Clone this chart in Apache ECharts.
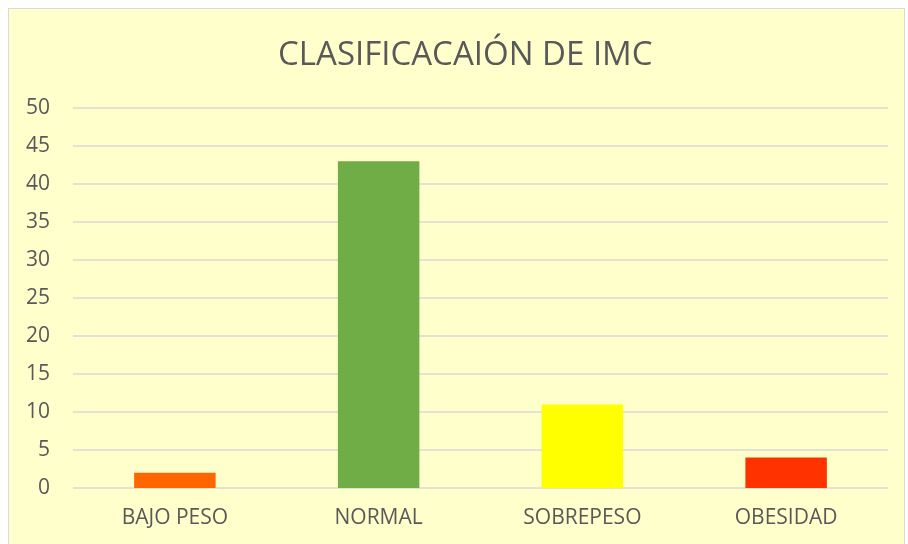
<!DOCTYPE html>
<html>
<head>
<meta charset="utf-8">
<script src="https://cdn.jsdelivr.net/npm/echarts@6/dist/echarts.min.js"></script>
<style>
  html, body { margin: 0; padding: 0; background: #fff; }
  #chart {
    position: absolute; left: 8px; top: 8px;
    width: 895px; height: 545px;
    border: 1px solid #d9d9d9;
    background: #ffffcc;
  }
</style>
</head>
<body>
<div id="chart"></div>
<script>
const categories = ['BAJO PESO', 'NORMAL', 'SOBREPESO', 'OBESIDAD']
const values = [2, 43, 11, 4]
const barColors = ['#ff6600', '#70ad47', '#ffff00', '#ff3300']

const chart = echarts.init(document.getElementById('chart'))

chart.setOption({
    backgroundColor: 'transparent',
    animation: false,
    title: {
        text: 'CLASIFICACAIÓN DE IMC',
        left: 264, // sits slightly right of center in the original
        top: 25,
        textStyle: {
            fontFamily: 'Open Sans',
            fontSize: 33,
            fontWeight: 'normal',
            color: '#595959'
        }
    },
    grid: {
        left: 64,
        right: 16,
        top: 99,
        height: 380
    },
    xAxis: {
        type: 'category',
        data: categories,
        axisLine: { show: false },
        axisTick: { show: false },
        axisLabel: {
            margin: 20,
            fontFamily: 'Open Sans',
            fontSize: 21,
            color: '#595959'
        }
    },
    yAxis: {
        type: 'value',
        min: 0,
        max: 50,
        interval: 5,
        axisLine: { show: false },
        axisTick: { show: false },
        axisLabel: {
            margin: 23,
            fontFamily: 'Open Sans',
            fontSize: 21,
            color: '#595959'
        },
        splitLine: { lineStyle: { color: '#d9d9d9', width: 1.5 } }
    },
    series: [{
        type: 'bar',
        barWidth: '40%',
        data: values.map((v, i) => ({ value: v, itemStyle: { color: barColors[i] } }))
    }]
})
</script>
</body>
</html>
